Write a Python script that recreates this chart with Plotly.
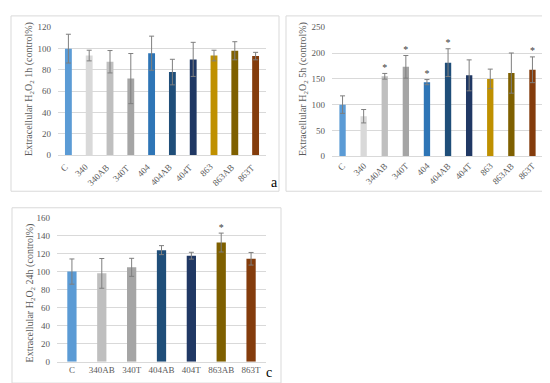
import plotly.graph_objects as go

W, H = 550, 383

# ---------------- data ----------------
cats_a = ["C", "340", "340AB", "340T", "404", "404AB", "404T", "863", "863AB", "863T"]
vals_a = [100, 93.5, 87.7, 71.9, 95.7, 78, 89.9, 93.5, 98, 93]
errs_a = [13.5, 5, 10.5, 23.5, 16, 12, 16, 5, 8.5, 3.5]

cats_b = ["C", "340", "340AB", "340T", "404", "404AB", "404T", "863", "863AB", "863T"]
vals_b = [100, 77.5, 155, 173.3, 143.6, 181.4, 156.8, 149.9, 161.2, 167.6]
errs_b = [17, 13, 5.5, 22, 5, 27, 30, 19, 39, 25]
star_b = ["", "", "*", "*", "*", "*", "", "", "", "*"]

cats_c = ["C", "340AB", "340T", "404AB", "404T", "863AB", "863T"]
vals_c = [100, 98, 104.7, 123.8, 117.6, 132.2, 114.2]
errs_c = [14, 16.5, 10, 5, 3.8, 10.5, 7]
star_c = ["", "", "", "", "", "*", ""]

color_map = {
    "C": "#5B9BD5", "340": "#D9D9D9", "340AB": "#BFBFBF", "340T": "#A5A5A5",
    "404": "#2E75B6", "404AB": "#1F4E79", "404T": "#203864",
    "863": "#BF9000", "863AB": "#7F6000", "863T": "#843C0C",
}

FONT = "Liberation Serif, Times New Roman, serif"
TICK_COL = "#595959"
GRID = "#D9D9D9"
ERR_COL = "#7F7F7F"

def px_x(p):
    return p / W

def px_y(p):
    return 1 - p / H

fig = go.Figure()

def add_panel(idx, cats, vals, errs, stars, barw):
    xa = "x" if idx == 1 else f"x{idx}"
    ya = "y" if idx == 1 else f"y{idx}"
    fig.add_trace(go.Bar(
        x=cats, y=vals, xaxis=xa, yaxis=ya, width=barw,
        marker=dict(color=[color_map[c] for c in cats], line=dict(width=0)),
        error_y=dict(type="data", array=errs, color=ERR_COL, thickness=1, width=2.5),
        showlegend=False, hoverinfo="x+y",
    ))
    sx = [c for c, s in zip(cats, stars) if s]
    sy = [v + e for v, e, s in zip(vals, errs, stars) if s]
    if sx:
        fig.add_trace(go.Scatter(
            x=sx, y=sy, xaxis=xa, yaxis=ya, mode="text", text=["*"] * len(sx),
            textposition="top center",
            textfont=dict(family=FONT, size=10, color="#404040"),
            showlegend=False, hoverinfo="skip", cliponaxis=False,
        ))

add_panel(1, cats_a, vals_a, errs_a, [""] * len(cats_a), 0.33)
add_panel(2, cats_b, vals_b, errs_b, star_b, 0.3)
add_panel(3, cats_c, vals_c, errs_c, star_c, 0.31)

tickfont = dict(family=FONT, size=9, color=TICK_COL)

def xaxis_cfg(domain, anchor, angle, cats, show=True):
    d = dict(domain=domain, anchor=anchor, showgrid=False, showline=True,
             linecolor=GRID, linewidth=1, ticks="", tickfont=tickfont,
             fixedrange=True, type="category", showticklabels=show,
             categoryorder="array", categoryarray=cats,
             range=[-0.5, len(cats) - 0.5])
    if angle is not None:
        d["tickangle"] = angle
    return d

def yaxis_cfg(domain, anchor, rng, dtick):
    return dict(domain=domain, anchor=anchor, range=rng, dtick=dtick,
                showgrid=True, gridcolor=GRID, gridwidth=1, zeroline=False,
                showline=False, ticks="", tickfont=tickfont, fixedrange=True,
                ticklabelstandoff=6)

fig.update_layout(
    width=W, height=H, margin=dict(l=0, r=0, t=0, b=0),
    paper_bgcolor="white", plot_bgcolor="white",
    font=dict(family=FONT, color=TICK_COL),
    xaxis=xaxis_cfg([px_x(50), px_x(258)], "y", -45, cats_a, show=False),
    yaxis=yaxis_cfg([px_y(146), px_y(14.7)], "x", [0, 120], 20),
    xaxis2=xaxis_cfg([px_x(324), px_x(535)], "y2", -45, cats_b),
    yaxis2=yaxis_cfg([px_y(147), px_y(14.7)], "x2", [0, 250], 50),
    xaxis3=xaxis_cfg([px_x(49), px_x(258)], "y3", 0, cats_c),
    yaxis3=yaxis_cfg([px_y(358), px_y(210)], "x3", [0, 160], 20),
)

# panel a category labels (rotated), placed by category index on the x axis
for i, c in enumerate(cats_a):
    fig.add_annotation(text=c, xref="x", yref="paper", x=i, y=px_y(150),
                       textangle=-45, showarrow=False, xanchor="right", yanchor="top",
                       xshift=4, font=dict(family=FONT, size=9, color=TICK_COL))

for (x0, y0, x1, y1) in [(3, 3, 271, 183), (278, 3, 546, 183), (4, 200, 273, 380)]:
    fig.add_shape(type="rect", xref="paper", yref="paper",
                  x0=px_x(x0), x1=px_x(x1), y0=px_y(y1), y1=px_y(y0),
                  line=dict(color=GRID, width=1), fillcolor="rgba(0,0,0,0)", layer="below")

titles = [
    ("Extracellular H<sub>2</sub>O<sub>2</sub> 1h (control%)", 22, 78),
    ("Extracellular H<sub>2</sub>O<sub>2</sub> 5h (control%)", 296, 78),
    ("Extracellular H<sub>2</sub>O<sub>2</sub> 24h (control%)", 22, 288),
]
for txt, x, y in titles:
    fig.add_annotation(text=txt, xref="paper", yref="paper", x=px_x(x), y=px_y(y),
                       textangle=-90, showarrow=False, xanchor="center", yanchor="middle",
                       font=dict(family=FONT, size=10, color=TICK_COL))

for lt, x, y in [("a", 266, 174), ("b", 539, 174), ("c", 261, 369)]:
    fig.add_annotation(text=lt, xref="paper", yref="paper", x=px_x(x), y=px_y(y),
                       showarrow=False, xanchor="center", yanchor="middle",
                       font=dict(family=FONT, size=14, color="black"))

fig.write_html("out.html")
